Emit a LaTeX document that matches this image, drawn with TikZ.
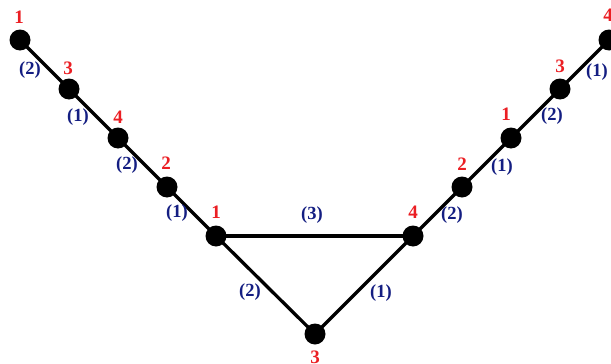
\documentclass[tikz,border=0pt]{standalone}
\usepackage{fontspec}
\setmainfont{Liberation Serif}
\definecolor{lblred}{RGB}{235,30,35}
\definecolor{lblblue}{RGB}{20,30,130}
\begin{document}
\begin{tikzpicture}[x=1pt,y=-1pt,
  vtx/.style={circle,fill=black,inner sep=0pt,minimum size=21pt},
  edge/.style={line width=3.3pt,black},
  rlab/.style={text=lblred,font=\fontsize{19}{19}\selectfont\bfseries,inner sep=0pt},
  blab/.style={text=lblblue,font=\fontsize{18.5}{18.5}\selectfont\bfseries,inner sep=0pt}]
\clip (0,0) rectangle (611,364);
\fill[white] (0,0) rectangle (611,364);
% vertices
\node[vtx] (a1) at (20,40) {};
\node[vtx] (a2) at (69,89) {};
\node[vtx] (a3) at (118,138) {};
\node[vtx] (a4) at (167,187) {};
\node[vtx] (l) at (216,236) {};
\node[vtx] (r) at (413,236) {};
\node[vtx] (b1) at (462,187) {};
\node[vtx] (b2) at (511,138) {};
\node[vtx] (b3) at (560,89) {};
\node[vtx] (b4) at (609,40) {};
\node[vtx] (c) at (315,334) {};
% edges
\draw[edge] (a1.center) -- (a2.center) -- (a3.center) -- (a4.center) -- (l.center);
\draw[edge] (l.center) -- (r.center);
\draw[edge] (l.center) -- (c.center) -- (r.center);
\draw[edge] (r.center) -- (b1.center) -- (b2.center) -- (b3.center) -- (b4.center);
% red labels
\node[rlab] (ta1) at (19,17) {1};
\node[rlab] (ta2) at (68,68) {3};
\node[rlab] (ta3) at (118,117) {4};
\node[rlab] (ta4) at (166,163) {2};
\node[rlab] (tl) at (216,212) {1};
\node[rlab] (tr) at (413,212) {4};
\node[rlab] (tb1) at (462,164) {2};
\node[rlab] (tb2) at (506,114) {1};
\node[rlab] (tb3) at (560,66) {3};
\node[rlab] (tb4) at (608,15) {4};
\node[rlab] (tc) at (315,357) {3};
% blue labels
\node[blab] (e1) at (30,70) {(2)};
\node[blab] (e2) at (78,117) {(1)};
\node[blab] (e3) at (127,165) {(2)};
\node[blab] (e4) at (177,213) {(1)};
\node[blab] (e5) at (312,215) {(3)};
\node[blab] (e6) at (250,292) {(2)};
\node[blab] (e7) at (381,293) {(1)};
\node[blab] (e8) at (452,215) {(2)};
\node[blab] (e9) at (502,167) {(1)};
\node[blab] (e10) at (552,116) {(2)};
\node[blab] (e11) at (597,72) {(1)};
\end{tikzpicture}
\end{document}
